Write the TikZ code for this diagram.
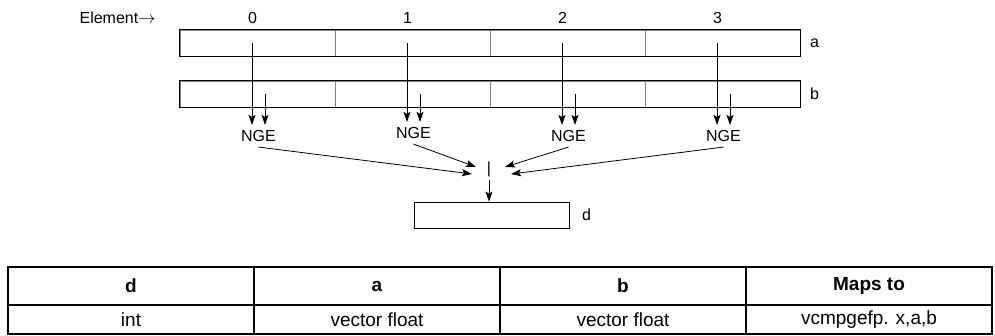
\documentclass[tikz,border=0pt]{standalone}
\usepackage{fontspec}
\setmainfont{Liberation Sans}
\usetikzlibrary{arrows.meta,positioning}

\begin{document}
\begin{tikzpicture}[>={Stealth[length=10pt,width=7pt,inset=2pt]}, x=1pt, y=-1pt, line width=0.8pt,
    every node/.style={font=\fontsize{16}{19}\selectfont},
    cell/.style={draw=gray, minimum width=155pt, minimum height=26pt, inner sep=0pt},
    box/.style={draw, minimum width=155pt, minimum height=26pt, inner sep=0pt},
    op/.style={inner sep=5pt},
    thead/.style={draw, line width=1.2pt, minimum width=246pt, minimum height=38pt, inner sep=0pt,
      font=\fontsize{19}{23}\selectfont\bfseries},
    tbody/.style={draw, line width=1.2pt, minimum width=246pt, minimum height=29pt, inner sep=0pt,
      font=\fontsize{19}{23}\selectfont}]
    \useasboundingbox (0,0) rectangle (995,335);

    % vector registers a and b
    \foreach \i in {0,...,3} {
      \node[cell] (a\i) at (257.5+155*\i,43) {};
      \node[cell] (b\i) at (257.5+155*\i,94) {};
    }
    \draw (a0.north west) rectangle (a3.south east);
    \draw (b0.north west) rectangle (b3.south east);
    \node[right=6pt of a3] (la) {a};
    \node[right=6pt of b3] (lb) {b};

    % element numbers
    \foreach \i in {0,...,3}
      \node[above=2pt of a\i.north, xshift=-5pt] (e\i) {\i};
    \node[left=85pt of e0] (elem) {Element$\rightarrow$};

    % compare per element
    \foreach \i/\y in {0/136,1/133,2/136,3/136} {
      \node[op] (n\i) at (258.5+155*\i,\y) {NGE};
      \coordinate (sa\i) at ([xshift=-5.5pt]a\i.center);
      \coordinate (sb\i) at ([xshift=7.5pt]b\i.center);
      \draw[->] (sa\i) -- (sa\i |- n\i.north);
      \draw[->] (sb\i) -- (sb\i |- n\i.north);
    }

    % or of all results
    \node (bar) at (489,169) {|};
    \draw[->] (n0.south) -- ([xshift=-17pt,yshift=-5pt]bar.center);
    \draw[->] (n1.south) -- ([xshift=-13pt,yshift=2pt]bar.center);
    \draw[->] (n2.south) -- ([xshift=16pt,yshift=2pt]bar.center);
    \draw[->] (n3.south) -- ([xshift=22pt,yshift=-5pt]bar.center);

    \node[box] (d) at (491.5,215) {};
    \node[right=9pt of d] (ld) {d};
    \draw[->] (bar.south) -- (bar.south |- d.north);

    % table
    \foreach \t [count=\i from 0] in {d,a,b,Maps to}
      \node[thead] (h\i) at (131+246*\i,286) {\t};
    \foreach \t [count=\i from 0] in {int,vector float,vector float,{vcmpgefp. x,a,b}}
      \node[tbody] (r\i) at (131+246*\i,319.5) {\t};
  \end{tikzpicture}
\end{document}
